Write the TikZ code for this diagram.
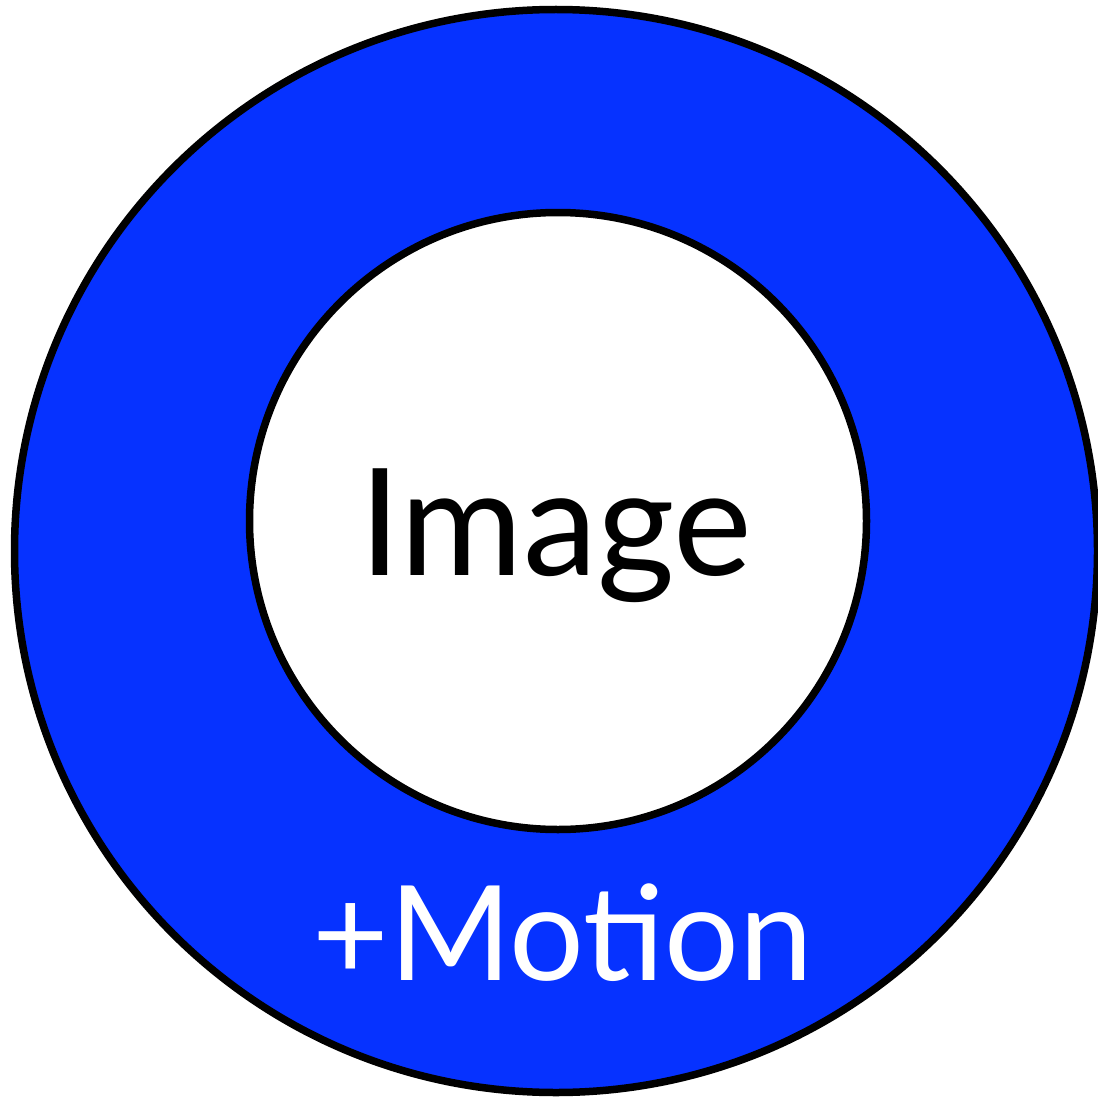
\documentclass[tikz,border=0pt]{standalone}
\usepackage{fontspec}
\setmainfont{Lato}
\usepackage{xcolor}
\usepackage{tikz}
\usetikzlibrary{positioning,calc}
\definecolor{blumoto}{RGB}{6,50,255}

\begin{document}
\begin{tikzpicture}[x=1pt,y=-1pt,
  anello/.style={circle,draw=black,line width=7.5pt,inner sep=0pt},
  scritta/.style={inner sep=0pt,anchor=base}]
  \useasboundingbox (0,0) rectangle (1098,1097);
  % cerchio esterno: movimento
  \node[anello,fill=blumoto,minimum size=1083pt] (moto) at (556,551) {};
  % cerchio interno: immagine
  \node[anello,fill=white,minimum size=617pt] (immagine) at (558,521) {};
  \node[scritta,font=\fontsize{149}{149}\selectfont,black] (testoimm) at (556,575) {Image};
  \node[scritta,font=\fontsize{132}{132}\selectfont,white] (testomoto) at (563,980) {+Motion};
\end{tikzpicture}
\end{document}
